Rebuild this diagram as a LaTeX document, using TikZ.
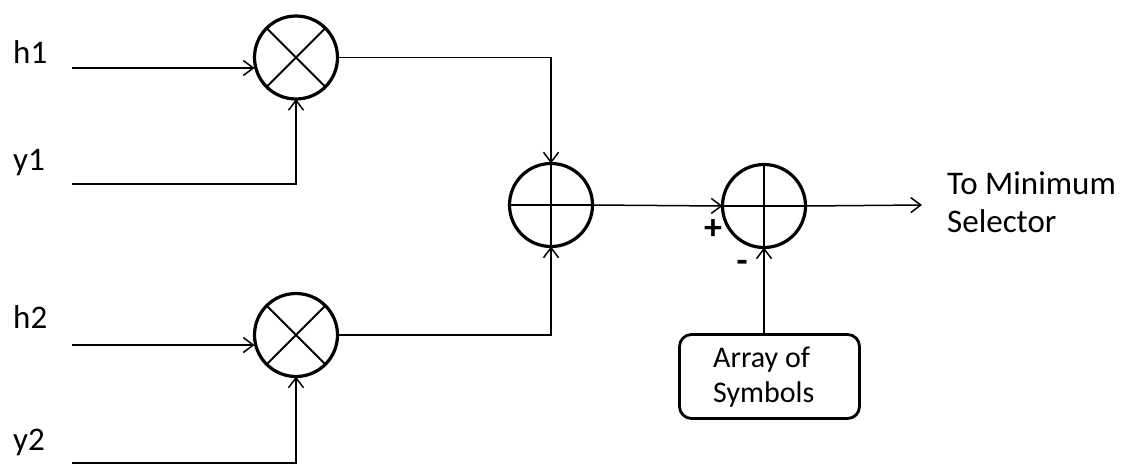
\documentclass[tikz,border=0pt]{standalone}
\usepackage{fontspec}
\setmainfont{Carlito}
\usetikzlibrary{arrows.meta,calc}
\begin{document}
\begin{tikzpicture}[x=1pt,y=-1pt,
  sumnode/.style={circle,draw,line width=3.2pt,minimum size=83pt,inner sep=0pt,outer sep=0pt},
  conn/.style={line width=1.5pt},
  arr/.style={conn,-{Straight Barb[length=10pt,width=15pt,line width=1.5pt]}},
  lbl/.style={font=\fontsize{33}{37}\selectfont,inner sep=0pt},
  boxnode/.style={draw,line width=2.8pt,rounded corners=12pt,minimum width=180pt,minimum height=84pt,inner sep=0pt}]
\useasboundingbox (0,0) rectangle (1131,466);

% multipliers
\node[sumnode] (m1) at (296,57.5) {};
\node[sumnode] (m2) at (296,335) {};
\foreach \m in {m1,m2}{
  \draw[line width=2pt] (\m.45) -- (\m.225);
  \draw[line width=2pt] (\m.135) -- (\m.315);
}
% adder and subtractor
\node[sumnode] (a) at (551,205) {};
\node[sumnode] (s) at (764,206) {};
\draw[conn] (a.west) -- (a.east);
\draw[conn] (a.north) -- (a.south);
\draw[conn] (s.west) -- (s.east);
\draw[conn] (s.north) -- (s.south);

% box
\node[boxnode] (box) at (769.5,376.5) {};
\node[lbl,align=left,anchor=west,font=\fontsize{30}{35}\selectfont] (boxtxt) at (713,377) {Array of\\Symbols};

% input labels
\node[lbl,anchor=west] (h1) at (13,52) {h1};
\node[lbl,anchor=west] (y1) at (13,163) {y1};
\node[lbl,anchor=west] (h2) at (13,317) {h2};
\node[lbl,anchor=west] (y2) at (13,442) {y2};

\coordinate (h1in) at (72,68);
\coordinate (y1in) at (72,184);
\coordinate (h2in) at (72,345);
\coordinate (y2in) at (72,463);
\coordinate (out) at (922,205);

\draw[arr] (h1in) -- (h1in -| m1.west);
\draw[arr] (y1in) -| (m1.south);
\draw[arr] (h2in) -- (h2in -| m2.west);
\draw[arr] (y2in) -| (m2.south);
\draw[arr] (m1.east) -| (a.north);
\draw[arr] (m2.east) -| (a.south);
\draw[arr] (a.east) -- (s.west);
\draw[arr] (s.east) -- (out);
\draw[arr] (s.south |- box.north) -- (s.south);

\node[lbl,anchor=west,align=left,font=\fontsize{33}{38}\selectfont] (outtxt) at (947,202) {To Minimum\\Selector};
\node[font=\fontsize{36}{36}\selectfont\bfseries,inner sep=0pt] (plus) at (713,230) {+};
\node[font=\fontsize{36}{36}\selectfont\bfseries,inner sep=0pt] (minus) at (742,266) {-};
\end{tikzpicture}
\end{document}
